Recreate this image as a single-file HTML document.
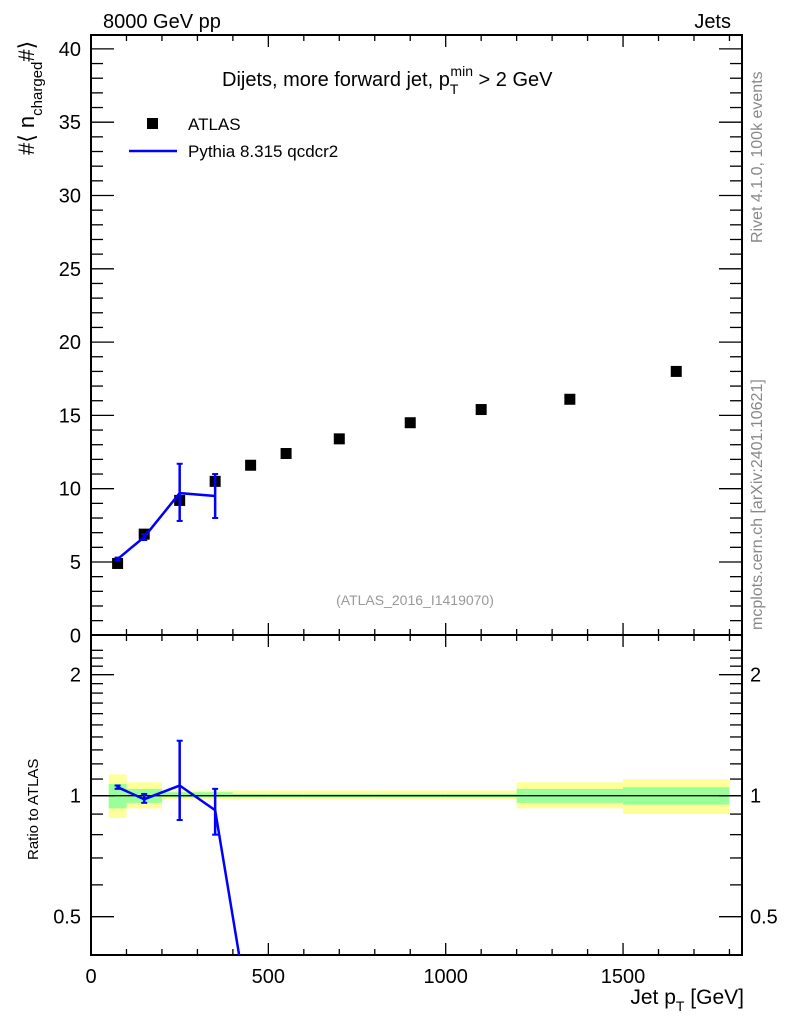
<!DOCTYPE html>
<html><head><meta charset="utf-8"><style>
body{margin:0;background:#fff;}
svg{display:block;font-family:"Liberation Sans",sans-serif;}
</style></head><body>
<svg id="c" width="786" height="1024" viewBox="0 0 786 1024" xmlns="http://www.w3.org/2000/svg"></svg>
<script>
const binEdges=[50,100,200,300,400,500,600,800,1000,1200,1500,1800];
const dataX=[75,150,250,350,450,550,700,900,1100,1350,1650];
const dataY=[4.9,6.9,9.2,10.5,11.6,12.4,13.4,14.5,15.4,16.1,18.0];
const mcX=[75,150,250,350];
const mcY=[5.2,6.7,9.7,9.5];
const mcLo=[5.1,6.5,7.8,8.0];
const mcHi=[5.3,6.9,11.7,11.0];
const ratioX=[75,150,250,350,450];
const ratioY=[1.05,0.98,1.06,0.92,0.27];
const ratioLo=[1.04,0.96,0.87,0.80,0.27];
const ratioHi=[1.06,1.01,1.37,1.04,0.27];
const yelLo=[0.88,0.93,0.98,0.98,0.98,0.98,0.98,0.98,0.98,0.93,0.90];
const yelHi=[1.13,1.08,1.03,1.03,1.03,1.03,1.03,1.03,1.03,1.08,1.10];
const grnLo=[0.93,0.96,0.99,0.99,0.99,0.99,0.99,0.99,0.99,0.96,0.95];
const grnHi=[1.07,1.04,1.02,1.02,1.01,1.01,1.01,1.01,1.01,1.04,1.05];
const mainTicks=[0,5,10,15,20,25,30,35,40];
const xTicks=[0,500,1000,1500];
const ratioTicks=[0.5,1,2];

const L=91,R=742,T=35,MB=635,RT=635,RB=955;
const sx=v=>L+v*0.3547;
const sy=v=>635.3-v*14.66;
const sr=v=>795.7-121*Math.log2(v);
const svg=document.getElementById('c');
const NS='http://www.w3.org/2000/svg';
function mk(tag,attrs,parent){const e=document.createElementNS(NS,tag);for(const k in attrs)e.setAttribute(k,attrs[k]);(parent||svg).appendChild(e);return e;}
function txt(s,x,y,size,anchor,fill,parent){const e=mk('text',{x:x,y:y,'font-size':size,'text-anchor':anchor||'start',fill:fill||'#000'},parent);e.textContent=s;return e;}

const defs=mk('defs',{});
const cp=mk('clipPath',{id:'rc'},defs);mk('rect',{x:L,y:RT,width:R-L,height:RB-RT},cp);

const bands=mk('g',{'clip-path':'url(#rc)'});

for(let i=0;i<yelLo.length;i++){
  const x0=sx(binEdges[i]),x1=sx(binEdges[i+1]);
  const y=mk('rect',{x:x0,y:sr(yelHi[i]),width:x1-x0,height:sr(yelLo[i])-sr(yelHi[i]),fill:'#ffff99'},bands);
  
  const g=mk('rect',{x:x0,y:sr(grnHi[i]),width:x1-x0,height:sr(grnLo[i])-sr(grnHi[i]),fill:'#99ff99'},bands);
  
}
mk('line',{x1:L,x2:R,y1:sr(1),y2:sr(1),stroke:'#000','stroke-width':1.3});

function frame(y0,y1,name){const r=mk('rect',{x:L,y:y0,width:R-L,height:y1-y0,fill:'none',stroke:'#000','stroke-width':2});}
frame(T,MB,'main-plot-frame');frame(RT,RB,'ratio-plot-frame');

[[T,MB],[RT,RB]].forEach(([y0,y1])=>{
  for(let v=0;v<=1800;v+=100){const x=sx(v);const maj=v%500===0;const l=maj?12:6;
    mk('line',{x1:x,x2:x,y1:y1,y2:y1-l,stroke:'#000','stroke-width':1.3});
    mk('line',{x1:x,x2:x,y1:y0,y2:y0+l,stroke:'#000','stroke-width':1.3});}
});
xTicks.forEach(v=>{const t=txt(String(v),sx(v),983,20,'middle');});

for(let v=0;v<=41;v+=1){const y=sy(v);if(y<T)continue;const maj=v%5===0;const l=maj?23:12;
  mk('line',{x1:L,x2:L+l,y1:y,y2:y,stroke:'#000','stroke-width':1.3});
  mk('line',{x1:R,x2:R-l,y1:y,y2:y,stroke:'#000','stroke-width':1.3});}
mainTicks.forEach(v=>{const t=txt(String(v),81,sy(v)+7,20,'end');});

const rminor=[0.4,0.5,0.6,0.7,0.8,0.9,1,1.1,1.2,1.3,1.4,1.5,1.6,1.7,1.8,1.9,2,2.1,2.2,2.3];
rminor.forEach(v=>{const y=sr(v);if(y<RT||y>RB)return;const maj=ratioTicks.includes(v);const l=maj?23:12;
  mk('line',{x1:L,x2:L+l,y1:y,y2:y,stroke:'#000','stroke-width':1.3});
  mk('line',{x1:R,x2:R-l,y1:y,y2:y,stroke:'#000','stroke-width':1.3});});
ratioTicks.forEach(v=>{
  const a=txt(String(v),81,sr(v)+7,20,'end');
  const b=txt(String(v),750,sr(v)+7,20,'start');});

dataX.forEach((x,i)=>{const r=mk('rect',{x:sx(x)-5.5,y:sy(dataY[i])-5.5,width:11,height:11,fill:'#000'});
  });

const mp=mk('polyline',{points:mcX.map((x,i)=>sx(x)+','+sy(mcY[i])).join(' '),fill:'none',stroke:'#0000ff','stroke-width':2.5});

mcX.forEach((x,i)=>{const X=sx(x);
  mk('line',{x1:X,x2:X,y1:sy(mcLo[i]),y2:sy(mcHi[i]),stroke:'#0000ff','stroke-width':2.5});
  mk('line',{x1:X-3,x2:X+3,y1:sy(mcLo[i]),y2:sy(mcLo[i]),stroke:'#0000ff','stroke-width':2});
  mk('line',{x1:X-3,x2:X+3,y1:sy(mcHi[i]),y2:sy(mcHi[i]),stroke:'#0000ff','stroke-width':2});});

const rg=mk('g',{'clip-path':'url(#rc)'});
const rp=mk('polyline',{points:ratioX.map((x,i)=>sx(x)+','+sr(ratioY[i])).join(' '),fill:'none',stroke:'#0000ff','stroke-width':2.5},rg);

ratioX.forEach((x,i)=>{if(ratioLo[i]===ratioHi[i])return;const X=sx(x);
  mk('line',{x1:X,x2:X,y1:sr(ratioLo[i]),y2:sr(ratioHi[i]),stroke:'#0000ff','stroke-width':2.5},rg);
  mk('line',{x1:X-3,x2:X+3,y1:sr(ratioLo[i]),y2:sr(ratioLo[i]),stroke:'#0000ff','stroke-width':2},rg);
  mk('line',{x1:X-3,x2:X+3,y1:sr(ratioHi[i]),y2:sr(ratioHi[i]),stroke:'#0000ff','stroke-width':2},rg);});
</script>
<svg style="position:absolute;left:0;top:0" width="786" height="1024" xmlns="http://www.w3.org/2000/svg" font-family="Liberation Sans, sans-serif">
<text x="103" y="28" font-size="20">8000 GeV pp</text>
<text x="731" y="28" font-size="20" text-anchor="end">Jets</text>
<text x="222" y="86" font-size="20">Dijets, more forward jet, p<tspan font-size="14" dy="8">T</tspan><tspan font-size="14" dy="-18" dx="-8">min</tspan><tspan dy="10"> &gt; 2 GeV</tspan></text>
<rect x="147" y="118" width="11" height="11" fill="#000"/>
<text x="188" y="130" font-size="17">ATLAS</text>
<line x1="129" y1="151" x2="177" y2="151" stroke="#0000ff" stroke-width="2.5"/>
<text x="188" y="157" font-size="17">Pythia 8.315 qcdcr2</text>
<text x="415" y="605" font-size="14" fill="#999" text-anchor="middle">(ATLAS_2016_I1419070)</text>
<text transform="translate(34,155) rotate(-90)" font-size="22">#⟨ n<tspan font-size="15" dy="8">charged</tspan><tspan dy="-8">#⟩</tspan></text>
<text transform="translate(38,860) rotate(-90)" font-size="15">Ratio to ATLAS</text>
<text x="744" y="1004" font-size="21" text-anchor="end">Jet p<tspan font-size="14" dy="7">T</tspan><tspan dy="-7"> [GeV]</tspan></text>
<text transform="translate(762,243) rotate(-90)" font-size="16" fill="#888">Rivet 4.1.0,  100k events</text>
<text transform="translate(762,630) rotate(-90)" font-size="16" fill="#888">mcplots.cern.ch [arXiv:2401.10621]</text>
</svg>
</body></html>
